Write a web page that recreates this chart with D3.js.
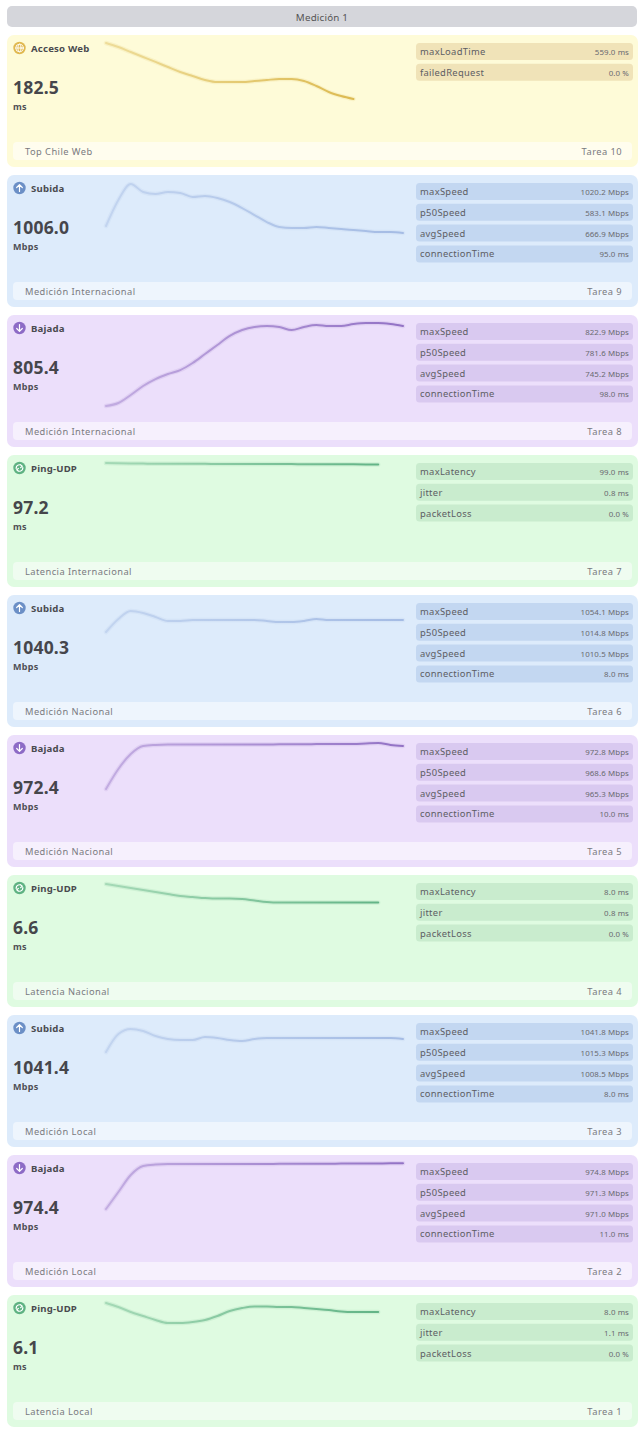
<!DOCTYPE html>
<html>
<head>
<meta charset="utf-8">
<script src="https://cdn.jsdelivr.net/npm/d3@7/dist/d3.min.js"></script>
<style>
  html, body { margin: 0; padding: 0; background: #ffffff; }
  svg { display: block; font-family: "Noto Sans", "Open Sans", sans-serif; }
</style>
</head>
<body>
<svg id="chart" width="644" height="1440"></svg>
<script>
// --- datos ---
var headerTitle = "Medición 1";
var tasks = ["Tarea 10", "Tarea 9", "Tarea 8", "Tarea 7", "Tarea 6", "Tarea 5", "Tarea 4", "Tarea 3", "Tarea 2", "Tarea 1"];
var kinds = ["web", "up", "down", "ping", "up", "down", "ping", "up", "down", "ping"];
var titles = ["Acceso Web", "Subida", "Bajada", "Ping-UDP", "Subida", "Bajada", "Ping-UDP", "Subida", "Bajada", "Ping-UDP"];
var mainValues = [182.5, 1006.0, 805.4, 97.2, 1040.3, 972.4, 6.6, 1041.4, 974.4, 6.1];
var units = ["ms", "Mbps", "Mbps", "ms", "Mbps", "Mbps", "ms", "Mbps", "Mbps", "ms"];
var footers = ["Top Chile Web", "Medición Internacional", "Medición Internacional", "Latencia Internacional",
  "Medición Nacional", "Medición Nacional", "Latencia Nacional", "Medición Local", "Medición Local", "Latencia Local"];

var metricNames = [
  ["maxLoadTime", "failedRequest"],
  ["maxSpeed", "p50Speed", "avgSpeed", "connectionTime"],
  ["maxSpeed", "p50Speed", "avgSpeed", "connectionTime"],
  ["maxLatency", "jitter", "packetLoss"],
  ["maxSpeed", "p50Speed", "avgSpeed", "connectionTime"],
  ["maxSpeed", "p50Speed", "avgSpeed", "connectionTime"],
  ["maxLatency", "jitter", "packetLoss"],
  ["maxSpeed", "p50Speed", "avgSpeed", "connectionTime"],
  ["maxSpeed", "p50Speed", "avgSpeed", "connectionTime"],
  ["maxLatency", "jitter", "packetLoss"]
];
var metricValues = [
  ["559.0 ms", "0.0 %"],
  ["1020.2 Mbps", "583.1 Mbps", "666.9 Mbps", "95.0 ms"],
  ["822.9 Mbps", "781.6 Mbps", "745.2 Mbps", "98.0 ms"],
  ["99.0 ms", "0.8 ms", "0.0 %"],
  ["1054.1 Mbps", "1014.8 Mbps", "1010.5 Mbps", "8.0 ms"],
  ["972.8 Mbps", "968.6 Mbps", "965.3 Mbps", "10.0 ms"],
  ["8.0 ms", "0.8 ms", "0.0 %"],
  ["1041.8 Mbps", "1015.3 Mbps", "1008.5 Mbps", "8.0 ms"],
  ["974.8 Mbps", "971.3 Mbps", "971.0 Mbps", "11.0 ms"],
  ["8.0 ms", "1.1 ms", "0.0 %"]
];

// series de cada tarea (muestras)
var webLoad = [559, 532, 499, 466, 433, 399, 366, 339, 313, 299, 299, 299, 306, 313, 319, 319, 306, 273, 233, 206, 186];
var upIntl = [498, 814, 1008, 911, 886, 911, 899, 850, 862, 838, 789, 716, 631, 546, 486, 474, 474, 486, 474, 461, 449, 437, 425, 425, 413];
var downIntl = [10, 39, 118, 206, 274, 323, 362, 431, 519, 607, 696, 754, 784, 793, 784, 754, 784, 803, 793, 793, 813, 823, 823, 813, 793];
var pingIntl = [98.9, 98.6, 98.4, 98.3, 98.2, 98.2, 98.1, 98.0, 98.0, 97.9, 97.9, 97.8, 97.8, 97.8, 97.7, 97.7, 97.6, 97.6, 97.5, 97.5, 97.4, 97.3, 97.2];
var upNac = [753, 931, 1040, 1013, 958, 904, 904, 917, 917, 917, 917, 917, 917, 904, 890, 890, 904, 931, 917, 917, 917, 917, 917, 917, 917];
var downNac = [440, 672, 845, 938, 950, 955, 955, 955, 955, 955, 955, 955, 955, 955, 958, 958, 958, 960, 961, 961, 961, 967, 972, 950, 938];
var pingNac = [7.9, 7.71, 7.52, 7.33, 7.14, 6.95, 6.76, 6.67, 6.57, 6.52, 6.52, 6.48, 6.33, 6.19, 6.14, 6.14, 6.14, 6.14, 6.14, 6.14, 6.14, 6.14, 6.14];
var upLocal = [733, 973, 1040, 1013, 947, 907, 893, 893, 933, 920, 893, 880, 907, 920, 920, 920, 920, 920, 920, 920, 920, 920, 920, 920, 907];
var downLocal = [441, 638, 836, 940, 957, 963, 963, 963, 963, 963, 963, 963, 963, 963, 965, 965, 966, 966, 967, 968, 969, 969, 970, 971, 971];
var pingLocal = [8.0, 7.62, 7.14, 6.76, 6.38, 6.10, 6.10, 6.19, 6.38, 6.76, 7.24, 7.52, 7.67, 7.67, 7.62, 7.62, 7.52, 7.43, 7.33, 7.19, 7.14, 7.14, 7.14];

var series = [webLoad, upIntl, downIntl, pingIntl, upNac, downNac, pingNac, upLocal, downLocal, pingLocal];
// tope del eje y de cada mini gráfico
var yTop = [559, 1020.2, 822.9, 99, 1150, 972.8, 8.0, 1120, 974.8, 8.0];

// --- estilos ---
var theme = {
  web:  { bg: "#fefbd8", row: "#f0e3b8", foot: "#fffdee", icon: "#e0b850", line: "#d9b445" },
  up:   { bg: "#ddebfb", row: "#c3d7f1", foot: "#eef5fd", icon: "#6b8fc6", line: "#9fb7e2" },
  down: { bg: "#ecdffb", row: "#d9c9f0", foot: "#f6f0fd", icon: "#8d6bc6", line: "#8a68c0" },
  ping: { bg: "#dffbe1", row: "#c9ecce", foot: "#effcf0", icon: "#5fb283", line: "#57ad7e" }
};

(function () {
  var svg = d3.select("#chart"),
    width = +svg.attr("width");

  var cardX = 7, cardW = 631;
  var cardY = d3.scaleBand().domain(tasks).range([35, 35 + 140 * tasks.length - 8]).paddingInner(8 / 140);
  var cardH = cardY.bandwidth();

  // muestras: mismo paso para todas las series
  var x = d3.scaleLinear().domain([0, 24]).range([106, 403]);

  var defs = svg.append("defs");

  // cabecera
  svg.append("rect")
    .attr("x", 7).attr("y", 6).attr("width", 630).attr("height", 21).attr("rx", 5)
    .attr("fill", "#d5d6db");
  svg.append("text")
    .attr("x", width / 2).attr("y", 20.5)
    .attr("text-anchor", "middle")
    .attr("font-size", 9.8).attr("fill", "#555").attr("letter-spacing", 0.2)
    .text(headerTitle);

  var cards = svg.selectAll("g.card")
    .data(tasks)
    .enter().append("g")
    .attr("class", "card")
    .attr("transform", function (d) { return "translate(0," + cardY(d) + ")"; });

  cards.each(function (task, i) {
    var g = d3.select(this),
      t = theme[kinds[i]],
      vals = series[i];

    g.append("rect")
      .attr("x", cardX).attr("y", 0).attr("width", cardW).attr("height", cardH).attr("rx", 7)
      .attr("fill", t.bg);

    // icono
    var ic = g.append("g").attr("transform", "translate(19.5,13)");
    ic.append("circle").attr("r", 6.2).attr("fill", t.icon);
    var st = { stroke: "#fff", "stroke-width": 1.2, fill: "none", "stroke-linecap": "round", "stroke-linejoin": "round" };
    function draw(sel) { Object.keys(st).forEach(function (k) { sel.attr(k, st[k]); }); return sel; }
    if (kinds[i] === "up") {
      draw(ic.append("path").attr("d", "M0,3.4V-3.2M-2.8,-0.5L0,-3.3L2.8,-0.5"));
    } else if (kinds[i] === "down") {
      draw(ic.append("path").attr("d", "M0,-3.4V3.2M-2.8,0.5L0,3.3L2.8,0.5"));
    } else if (kinds[i] === "web") {
      draw(ic.append("circle").attr("r", 3.8)).attr("stroke-width", 0.9);
      draw(ic.append("ellipse").attr("rx", 1.6).attr("ry", 3.8)).attr("stroke-width", 0.9);
      draw(ic.append("path").attr("d", "M-3.8,0H3.8")).attr("stroke-width", 0.9);
    } else {
      draw(ic.append("path").attr("d", "M-3.3,0.4A3.3,3.3 0 0 1 2.6,-1.9M0.9,-3.3L2.8,-1.8L1.1,-0.4"));
      draw(ic.append("path").attr("d", "M3.3,-0.4A3.3,3.3 0 0 1 -2.6,1.9M-0.9,3.3L-2.8,1.8L-1.1,0.4"));
    }

    g.append("text")
      .attr("x", 31).attr("y", 16.5)
      .attr("font-size", 9.6).attr("font-weight", 700).attr("fill", "#4a4a4f").attr("letter-spacing", 0.2)
      .text(titles[i]);

    g.append("text")
      .attr("x", 13).attr("y", 58.5)
      .attr("font-size", 17.5).attr("font-weight", 700).attr("fill", "#46464b").attr("letter-spacing", 0.2)
      .text(d3.format(".1f")(mainValues[i]));

    g.append("text")
      .attr("x", 13).attr("y", 75)
      .attr("font-size", 9).attr("font-weight", 700).attr("fill", "#4f4f55").attr("letter-spacing", 0.3)
      .text(units[i]);

    // mini gráfico
    var y = d3.scaleLinear().domain([0, yTop[i]]).range([92, 8]);
    var endX = x(vals.length - 1);
    var gid = "grad" + i;
    var grad = defs.append("linearGradient")
      .attr("id", gid).attr("gradientUnits", "userSpaceOnUse")
      .attr("x1", x(0)).attr("x2", endX).attr("y1", 0).attr("y2", 0);
    grad.append("stop").attr("offset", "0%").attr("stop-color", t.line).attr("stop-opacity", 0.35);
    grad.append("stop").attr("offset", "100%").attr("stop-color", t.line).attr("stop-opacity", 0.9);

    var line = d3.line()
      .x(function (d, j) { return x(j); })
      .y(function (d) { return y(d); })
      .curve(d3.curveMonotoneX);

    g.append("path")
      .datum(vals)
      .attr("d", line)
      .attr("fill", "none")
      .attr("stroke", t.line).attr("stroke-opacity", 0.12)
      .attr("stroke-width", 4.5).attr("stroke-linecap", "round");
    g.append("path")
      .datum(vals)
      .attr("d", line)
      .attr("fill", "none")
      .attr("stroke", "url(#" + gid + ")")
      .attr("stroke-width", 2).attr("stroke-linecap", "round");

    // métricas
    var rows = g.selectAll("g.row")
      .data(metricNames[i])
      .enter().append("g")
      .attr("class", "row")
      .attr("transform", function (d, j) { return "translate(416," + (8 + j * 20.8) + ")"; });
    rows.append("rect")
      .attr("width", 217).attr("height", 17).attr("rx", 3.5)
      .attr("fill", t.row);
    rows.append("text")
      .attr("x", 4).attr("y", 12)
      .attr("font-size", 9.4).attr("fill", "#5d5d63").attr("letter-spacing", 0.3)
      .text(function (d) { return d; });
    rows.append("text")
      .attr("x", 213).attr("y", 12)
      .attr("text-anchor", "end")
      .attr("font-size", 7.9).attr("fill", "#6a6a70").attr("letter-spacing", 0.1)
      .text(function (d, j) { return metricValues[i][j]; });

    // pie
    g.append("rect")
      .attr("x", 13).attr("y", 107).attr("width", 619).attr("height", 18).attr("rx", 4)
      .attr("fill", t.foot);
    g.append("text")
      .attr("x", 25).attr("y", 119.5)
      .attr("font-size", 9.3).attr("fill", "#7a7a80").attr("letter-spacing", 0.45)
      .text(footers[i]);
    g.append("text")
      .attr("x", 622).attr("y", 119.5)
      .attr("text-anchor", "end")
      .attr("font-size", 9.3).attr("fill", "#7a7a80").attr("letter-spacing", 0.45)
      .text(task);
  });
})();
</script>
</body>
</html>
